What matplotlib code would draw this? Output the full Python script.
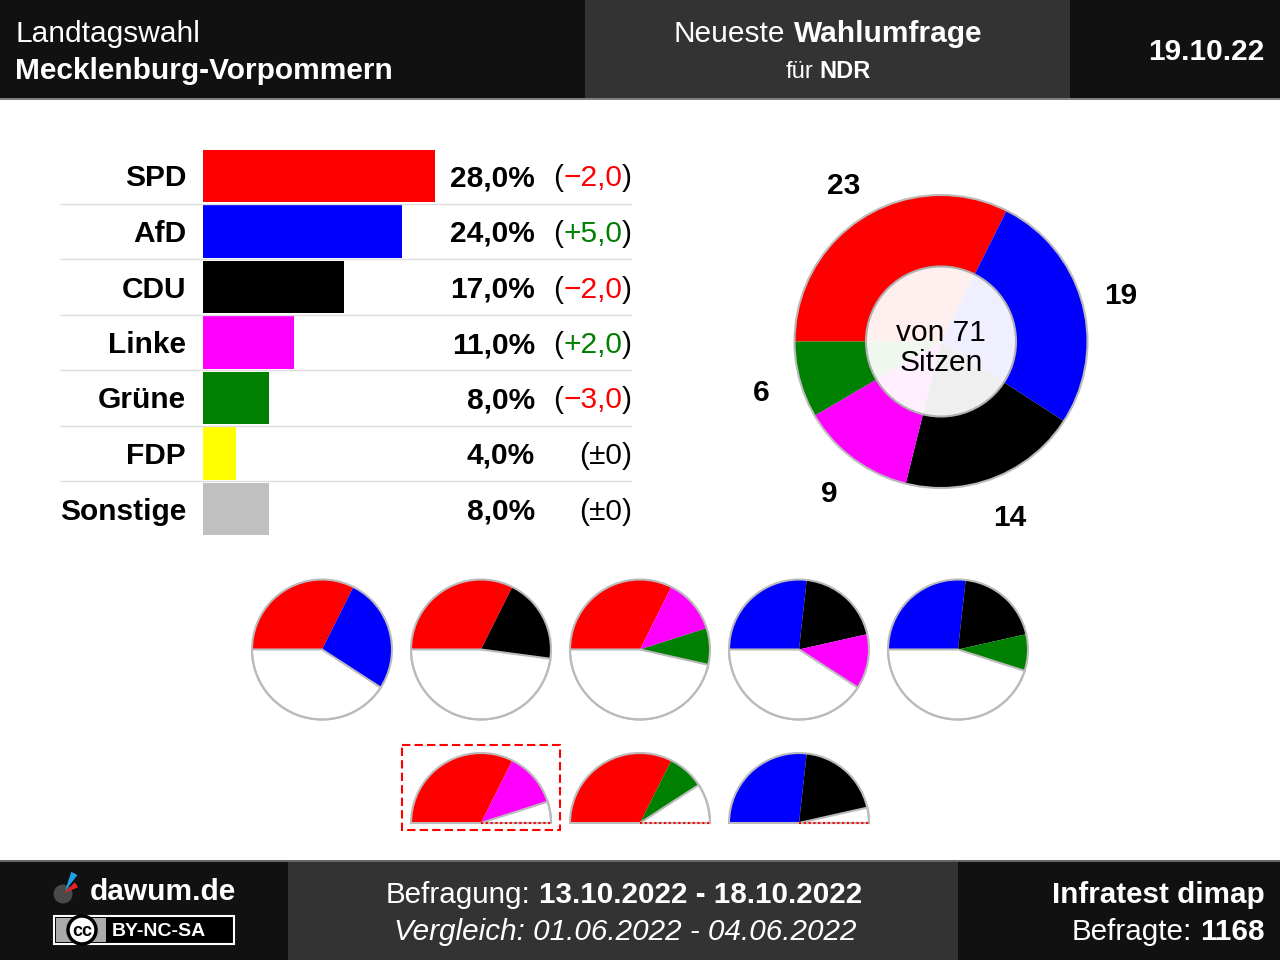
import numpy as np
import matplotlib
matplotlib.use("Agg")
import matplotlib.pyplot as plt
from matplotlib.patches import Rectangle, Circle, Wedge

plt.rcParams['font.family'] = ['Liberation Sans', 'DejaVu Sans']

# data
parties = ["SPD", "AfD", "CDU", "Linke", "Grüne", "FDP", "Sonstige"]
colors = ["#ff0000", "#0000ff", "#000000", "#ff00ff", "#008000", "#ffff00", "#c0c0c0"]
percent = [28.0, 24.0, 17.0, 11.0, 8.0, 4.0, 8.0]
change = [-2.0, 5.0, -2.0, 2.0, -3.0, 0.0, 0.0]

seat_parties = ["SPD", "AfD", "CDU", "Linke", "Grüne"]
seats = [23, 19, 14, 9, 6]
total_seats = 71

coalitions_major = [["SPD", "AfD"], ["SPD", "CDU"], ["SPD", "Linke", "Grüne"],
                    ["AfD", "CDU", "Linke"], ["AfD", "CDU", "Grüne"]]
coalitions_minor = [["SPD", "Linke"], ["SPD", "Grüne"], ["AfD", "CDU"]]
current_gov = ["SPD", "Linke"]

W, H = 1280, 960
fig = plt.figure(figsize=(12.8, 9.6), dpi=100)
fig.patch.set_facecolor("white")
bg = fig.add_axes([0, 0, 1, 1])
bg.set_xlim(0, W); bg.set_ylim(H, 0); bg.axis("off")
R = fig.canvas.get_renderer()

def frac(x0, y0, x1, y1):
    return [x0 / W, 1 - y1 / H, (x1 - x0) / W, (y1 - y0) / H]

def rich(x, y, parts, ha="left", size=21.5, color="white"):
    # parts: (text, weight, style, color) or " " for a space
    gap = 0.278 * size * 100 / 72
    items = []
    for p in parts:
        if p == " ":
            items.append((None, gap)); continue
        s, wgt, sty, col = p
        t = bg.text(0, y, s, fontsize=size, fontweight=wgt, fontstyle=sty,
                    color=col or color, va="baseline", ha="left")
        items.append((t, t.get_window_extent(R).width))
    tot = sum(w for _, w in items)
    x0 = x - tot if ha == "right" else (x - tot / 2 if ha == "center" else x)
    for t, w in items:
        if t is not None:
            t.set_x(x0)
        x0 += w

# header / footer
bg.add_patch(Rectangle((0, 0), W, 98, color="#111111", lw=0))
bg.add_patch(Rectangle((585, 0), 485, 98, color="#333333", lw=0))
bg.add_patch(Rectangle((0, 98), W, 2, color="#808080", lw=0))
bg.add_patch(Rectangle((0, 860), W, 100, color="#111111", lw=0))
bg.add_patch(Rectangle((288, 862), 670, 98, color="#333333", lw=0))
bg.add_patch(Rectangle((0, 860), W, 2, color="#666666", lw=0))

rich(15, 42, [("Landtagswahl", "normal", "normal", None)])
rich(15, 79, [("Mecklenburg-Vorpommern", "bold", "normal", None)])
rich(828, 42, [("Neueste", "normal", "normal", None), " ",
               ("Wahlumfrage", "bold", "normal", None)], ha="center")
rich(828, 78, [("für", "normal", "normal", None), " ",
               ("NDR", "bold", "normal", None)], ha="center", size=17)
rich(1265, 60, [("19.10.22", "bold", "normal", None)], ha="right")

rich(624, 903, [("Befragung:", "normal", "normal", None), " ",
                ("13.10.2022 - 18.10.2022", "bold", "normal", None)], ha="center", size=21.3)
rich(625, 940, [("Vergleich: 01.06.2022 - 04.06.2022", "normal", "italic", None)],
     ha="center", size=21.3)
rich(1265, 903, [("Infratest dimap", "bold", "normal", None)], ha="right", size=21.3)
rich(1265, 940, [("Befragte:", "normal", "normal", None), " ",
                 ("1168", "bold", "normal", None)], ha="right", size=21.3)

# logo (y axis of bg is flipped, so angles go the other way)
bg.add_patch(Circle((63, 894), 9.5, color="#4a4a4a", lw=0))
bg.add_patch(Wedge((64, 893), 15, -45, -22, color="#e8202a", lw=0))
bg.add_patch(Wedge((65, 891), 20, -72, -52, color="#1ea0e6", lw=0))
rich(90, 900, [("dawum.de", "bold", "normal", None)], size=21.5)
bg.add_patch(Rectangle((54, 916), 180, 28, fc="black", ec="white", lw=1.5))
bg.add_patch(Rectangle((56, 918), 50, 24, color="#aaaaaa", lw=0))
bg.add_patch(Circle((82, 930), 14, fc="white", ec="black", lw=2.5))
bg.text(82, 930, "cc", fontsize=13, fontweight="bold", ha="center", va="center_baseline")
rich(112, 936.5, [("BY-NC-SA", "bold", "normal", None)], size=14)

# bars
PX = 8.29
bx = fig.add_axes(frac(60, 148.25, 632, 536.75))
bx.set_xlim(-(203 - 60) / PX, (632 - 203) / PX)
bx.set_ylim(len(parties) - 0.5, -0.5)
bx.axis("off")
bx.patch.set_alpha(0)
y_idx = np.arange(len(parties))
bx.barh(y_idx, percent, height=0.94, color=colors, lw=0)
bx.hlines(y_idx[:-1] + 0.5, *bx.get_xlim(), color="#dddddd", lw=1)

for i, (p, v, d) in enumerate(zip(parties, percent, change)):
    yc = H - bx.transData.transform((0, i))[1]
    yb = yc + 10.5
    rich(186, yb, [(p, "bold", "normal", "black")], ha="right")
    rich(535, yb, [(f"{v:.1f}".replace(".", ",") + "%", "bold", "normal", "black")], ha="right")
    if d > 0:
        mid, col = f"+{d:.1f}".replace(".", ","), "#008000"
    elif d < 0:
        mid, col = f"\u2212{-d:.1f}".replace(".", ","), "#ff0000"
    else:
        mid, col = "±0", "black"
    rich(632, yb, [("(", "normal", "normal", "black"), (mid, "normal", "normal", col),
                   (")", "normal", "normal", "black")], ha="right")

# seat donut
seat_colors = [colors[parties.index(p)] for p in seat_parties]
cx, cy, r = 941, 341.5, 146.5
L = 200
dx = fig.add_axes(frac(cx - L, cy - L, cx + L, cy + L))
wedges, _ = dx.pie(seats, colors=seat_colors, startangle=180, counterclock=False,
                   wedgeprops=dict(lw=0))
dx.set_xlim(-L / r, L / r); dx.set_ylim(-L / r, L / r)
dx.add_patch(Circle((0, 0), 1, fill=False, ec="#bbbbbb", lw=1.5))
dx.add_patch(Circle((0, 0), 75 / r, fc="white", alpha=0.94, lw=0))
dx.add_patch(Circle((0, 0), 75 / r, fill=False, ec="#b0b0b0", lw=1.5))
for w, s in zip(wedges, seats):
    a = np.deg2rad((w.theta1 + w.theta2) / 2)
    dx.text(1.27 * np.cos(a), 1.27 * np.sin(a), str(s), fontsize=21.5, fontweight="bold",
            ha="center", va="center_baseline")
dx.text(0, 0.058, "von 71", fontsize=21.5, ha="center", va="center")
dx.text(0, -0.147, "Sitzen", fontsize=21.5, ha="center", va="center")

# coalition pies
def coalition(ccx, ccy, members, half=False):
    rr, LL = 70, 74
    ax = fig.add_axes(frac(ccx - LL, ccy - LL, ccx + LL, ccy + LL))
    vals = [seats[seat_parties.index(m)] for m in members]
    cols = [colors[parties.index(m)] for m in members]
    base = total_seats / 2 if half else total_seats
    vals = vals + [base - sum(vals)]
    cols = cols + ["white"]
    if half:
        vals.append(total_seats / 2)
        cols.append("white")
    ws, _ = ax.pie(vals, colors=cols, startangle=180, counterclock=False,
                   wedgeprops=dict(lw=0))
    ws[len(members)].set_edgecolor("#bbbbbb")
    ws[len(members)].set_linewidth(1.5)
    if half:
        ws[-1].set_visible(False)
        ax.add_patch(Wedge((0, 0), 1, 0, 180, fill=False, ec="#bbbbbb", lw=1.5))
        ax.plot([0, 1], [0, 0], color="red", lw=1.5, ls=(0, (1, 1.3)))
    else:
        ax.add_patch(Circle((0, 0), 1, fill=False, ec="#bbbbbb", lw=1.5))
    ax.set_xlim(-LL / rr, LL / rr); ax.set_ylim(-LL / rr, LL / rr)

xs_top = [322, 481, 640, 799, 958]
for x, c in zip(xs_top, coalitions_major):
    coalition(x, 649.5, c)
xs_bot = [481, 640, 799]
for x, c in zip(xs_bot, coalitions_minor):
    coalition(x, 823, c, half=True)
    if c == current_gov:
        bg.add_patch(Rectangle((x - 79, 745), 158, 85, fill=False, ec="red",
                               lw=1.5, ls=(0, (4, 2))))

fig.savefig("out.png", dpi=100)
